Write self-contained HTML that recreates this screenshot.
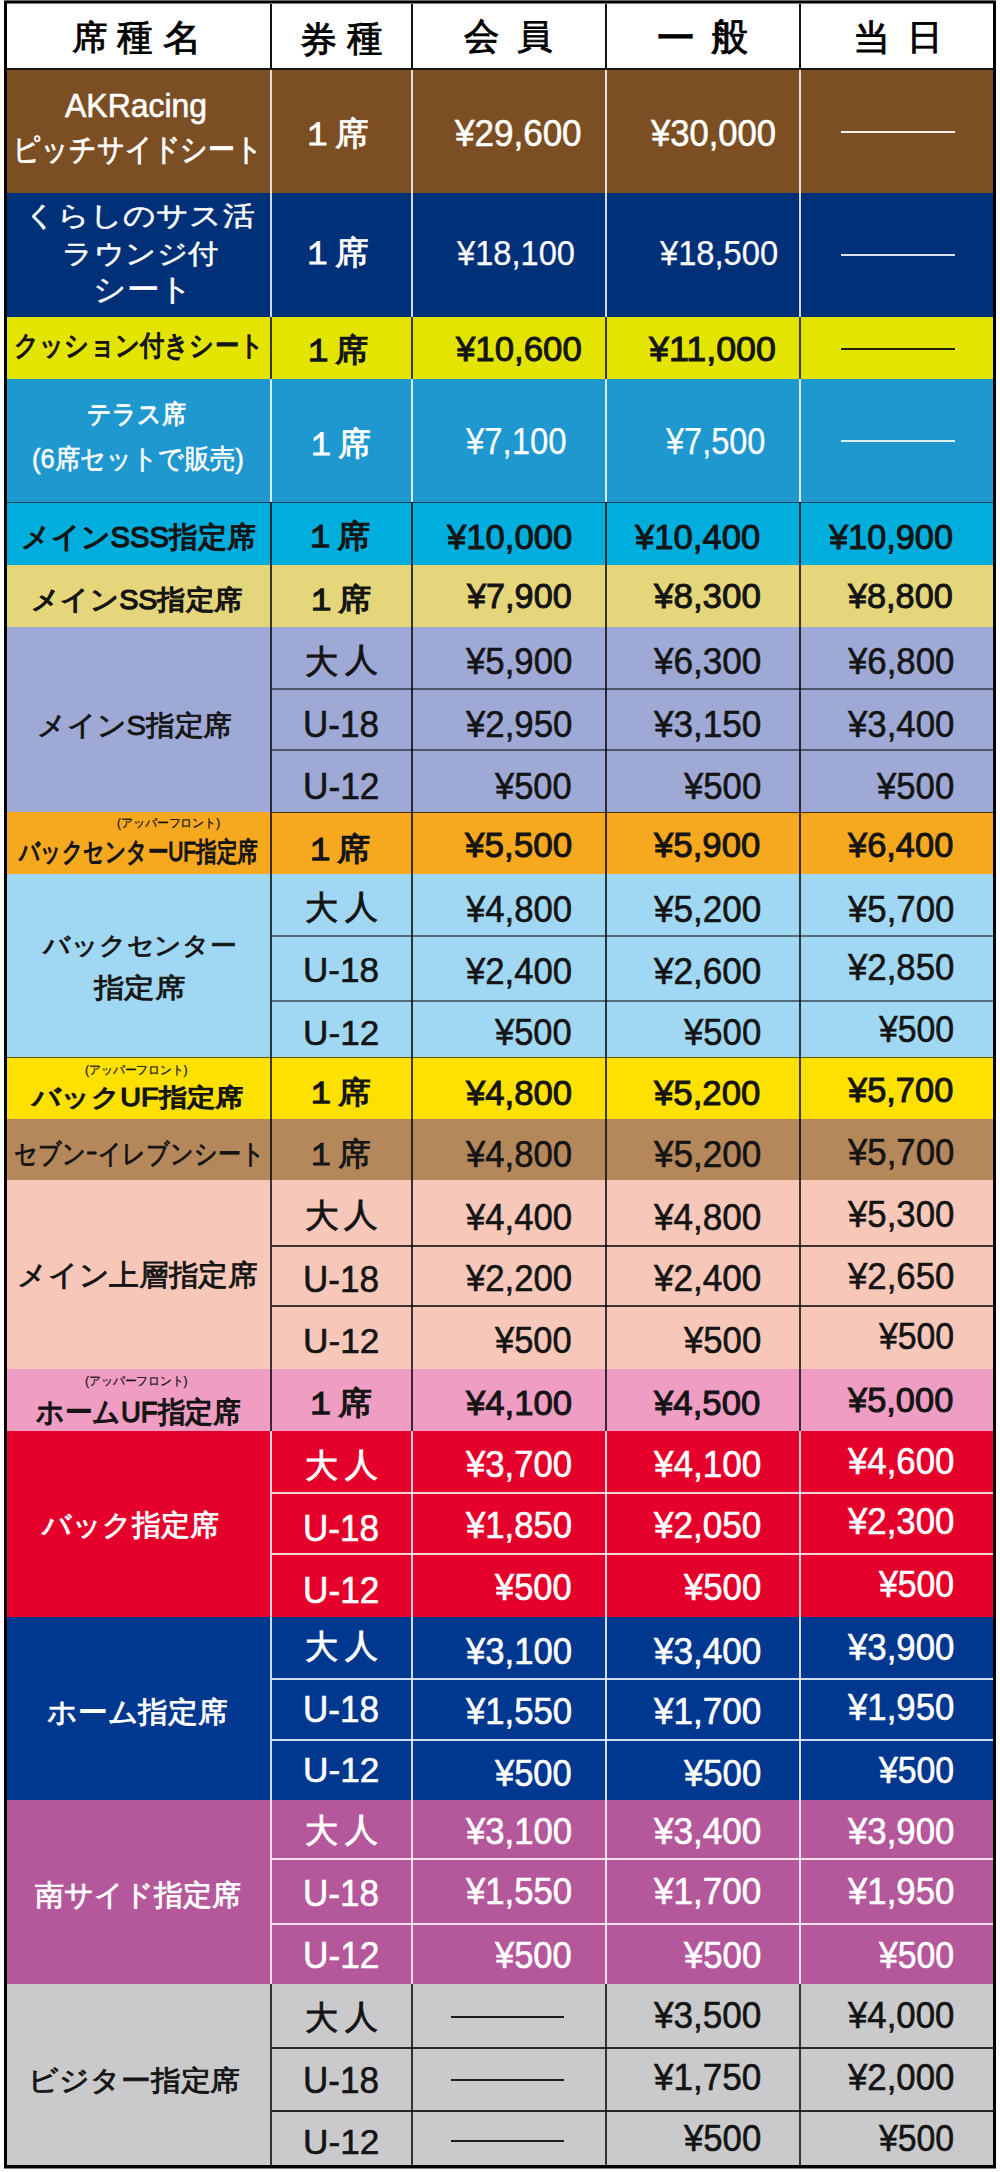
<!DOCTYPE html>
<html lang="ja"><head><meta charset="utf-8"><title>席種・料金表</title>
<style>
html,body{margin:0;padding:0;width:1000px;height:2172px;overflow:hidden;background:#ffffff}
#c{position:relative;width:1000px;height:2172px;background:#ffffff}
i{position:absolute;display:block}
b{position:absolute;white-space:nowrap;line-height:1;font-family:"Liberation Sans",sans-serif;font-weight:normal;transform-origin:0 0}
</style></head><body><div id="c">
<i style="left:4px;top:70px;width:992px;height:123px;background:#7b4f23"></i>
<i style="left:4px;top:193px;width:992px;height:124px;background:#003078"></i>
<i style="left:4px;top:317px;width:992px;height:62px;background:#e3e400"></i>
<i style="left:4px;top:379px;width:992px;height:123px;background:#1f98d0"></i>
<i style="left:4px;top:502px;width:992px;height:63px;background:#00aede"></i>
<i style="left:4px;top:565px;width:992px;height:62px;background:#e6d67b"></i>
<i style="left:4px;top:627px;width:992px;height:185px;background:#9ea9d6"></i>
<i style="left:4px;top:812px;width:992px;height:62px;background:#f6a81f"></i>
<i style="left:4px;top:874px;width:992px;height:183px;background:#a0d8f3"></i>
<i style="left:4px;top:1057px;width:992px;height:62px;background:#ffe100"></i>
<i style="left:4px;top:1119px;width:992px;height:61px;background:#b5885c"></i>
<i style="left:4px;top:1180px;width:992px;height:189px;background:#f7c8b9"></i>
<i style="left:4px;top:1369px;width:992px;height:62px;background:#f09dc3"></i>
<i style="left:4px;top:1431px;width:992px;height:186px;background:#e4002b"></i>
<i style="left:4px;top:1617px;width:992px;height:183px;background:#00378f"></i>
<i style="left:4px;top:1800px;width:992px;height:184px;background:#b5579b"></i>
<i style="left:4px;top:1984px;width:992px;height:182px;background:#cacacc"></i>
<i style="left:270px;top:70px;width:2px;height:123px;background:rgba(255,255,255,0.82)"></i>
<i style="left:411px;top:70px;width:2px;height:123px;background:rgba(255,255,255,0.82)"></i>
<i style="left:605px;top:70px;width:2px;height:123px;background:rgba(255,255,255,0.82)"></i>
<i style="left:799px;top:70px;width:2px;height:123px;background:rgba(255,255,255,0.82)"></i>
<i style="left:270px;top:193px;width:2px;height:124px;background:rgba(255,255,255,0.82)"></i>
<i style="left:411px;top:193px;width:2px;height:124px;background:rgba(255,255,255,0.82)"></i>
<i style="left:605px;top:193px;width:2px;height:124px;background:rgba(255,255,255,0.82)"></i>
<i style="left:799px;top:193px;width:2px;height:124px;background:rgba(255,255,255,0.82)"></i>
<i style="left:270px;top:317px;width:2px;height:62px;background:rgba(0,0,0,0.75)"></i>
<i style="left:411px;top:317px;width:2px;height:62px;background:rgba(0,0,0,0.75)"></i>
<i style="left:605px;top:317px;width:2px;height:62px;background:rgba(0,0,0,0.75)"></i>
<i style="left:799px;top:317px;width:2px;height:62px;background:rgba(0,0,0,0.75)"></i>
<i style="left:270px;top:379px;width:2px;height:123px;background:rgba(255,255,255,0.82)"></i>
<i style="left:411px;top:379px;width:2px;height:123px;background:rgba(255,255,255,0.82)"></i>
<i style="left:605px;top:379px;width:2px;height:123px;background:rgba(255,255,255,0.82)"></i>
<i style="left:799px;top:379px;width:2px;height:123px;background:rgba(255,255,255,0.82)"></i>
<i style="left:270px;top:502px;width:2px;height:63px;background:rgba(0,0,0,0.75)"></i>
<i style="left:411px;top:502px;width:2px;height:63px;background:rgba(0,0,0,0.75)"></i>
<i style="left:605px;top:502px;width:2px;height:63px;background:rgba(0,0,0,0.75)"></i>
<i style="left:799px;top:502px;width:2px;height:63px;background:rgba(0,0,0,0.75)"></i>
<i style="left:270px;top:565px;width:2px;height:62px;background:rgba(0,0,0,0.75)"></i>
<i style="left:411px;top:565px;width:2px;height:62px;background:rgba(0,0,0,0.75)"></i>
<i style="left:605px;top:565px;width:2px;height:62px;background:rgba(0,0,0,0.75)"></i>
<i style="left:799px;top:565px;width:2px;height:62px;background:rgba(0,0,0,0.75)"></i>
<i style="left:270px;top:627px;width:2px;height:185px;background:rgba(0,0,0,0.75)"></i>
<i style="left:411px;top:627px;width:2px;height:185px;background:rgba(0,0,0,0.75)"></i>
<i style="left:605px;top:627px;width:2px;height:185px;background:rgba(0,0,0,0.75)"></i>
<i style="left:799px;top:627px;width:2px;height:185px;background:rgba(0,0,0,0.75)"></i>
<i style="left:272px;top:688px;width:721px;height:2px;background:rgba(0,0,0,0.5)"></i>
<i style="left:272px;top:749px;width:721px;height:2px;background:rgba(0,0,0,0.5)"></i>
<i style="left:270px;top:812px;width:2px;height:62px;background:rgba(0,0,0,0.75)"></i>
<i style="left:411px;top:812px;width:2px;height:62px;background:rgba(0,0,0,0.75)"></i>
<i style="left:605px;top:812px;width:2px;height:62px;background:rgba(0,0,0,0.75)"></i>
<i style="left:799px;top:812px;width:2px;height:62px;background:rgba(0,0,0,0.75)"></i>
<i style="left:270px;top:874px;width:2px;height:183px;background:rgba(0,0,0,0.75)"></i>
<i style="left:411px;top:874px;width:2px;height:183px;background:rgba(0,0,0,0.75)"></i>
<i style="left:605px;top:874px;width:2px;height:183px;background:rgba(0,0,0,0.75)"></i>
<i style="left:799px;top:874px;width:2px;height:183px;background:rgba(0,0,0,0.75)"></i>
<i style="left:272px;top:935px;width:721px;height:2px;background:rgba(0,0,0,0.5)"></i>
<i style="left:272px;top:1000px;width:721px;height:2px;background:rgba(0,0,0,0.5)"></i>
<i style="left:270px;top:1057px;width:2px;height:62px;background:rgba(0,0,0,0.75)"></i>
<i style="left:411px;top:1057px;width:2px;height:62px;background:rgba(0,0,0,0.75)"></i>
<i style="left:605px;top:1057px;width:2px;height:62px;background:rgba(0,0,0,0.75)"></i>
<i style="left:799px;top:1057px;width:2px;height:62px;background:rgba(0,0,0,0.75)"></i>
<i style="left:270px;top:1119px;width:2px;height:61px;background:rgba(0,0,0,0.75)"></i>
<i style="left:411px;top:1119px;width:2px;height:61px;background:rgba(0,0,0,0.75)"></i>
<i style="left:605px;top:1119px;width:2px;height:61px;background:rgba(0,0,0,0.75)"></i>
<i style="left:799px;top:1119px;width:2px;height:61px;background:rgba(0,0,0,0.75)"></i>
<i style="left:270px;top:1180px;width:2px;height:189px;background:rgba(0,0,0,0.75)"></i>
<i style="left:411px;top:1180px;width:2px;height:189px;background:rgba(0,0,0,0.75)"></i>
<i style="left:605px;top:1180px;width:2px;height:189px;background:rgba(0,0,0,0.75)"></i>
<i style="left:799px;top:1180px;width:2px;height:189px;background:rgba(0,0,0,0.75)"></i>
<i style="left:272px;top:1245px;width:721px;height:2px;background:rgba(0,0,0,0.75)"></i>
<i style="left:272px;top:1305px;width:721px;height:2px;background:rgba(0,0,0,0.75)"></i>
<i style="left:270px;top:1369px;width:2px;height:62px;background:rgba(0,0,0,0.75)"></i>
<i style="left:411px;top:1369px;width:2px;height:62px;background:rgba(0,0,0,0.75)"></i>
<i style="left:605px;top:1369px;width:2px;height:62px;background:rgba(0,0,0,0.75)"></i>
<i style="left:799px;top:1369px;width:2px;height:62px;background:rgba(0,0,0,0.75)"></i>
<i style="left:270px;top:1431px;width:2px;height:186px;background:rgba(255,255,255,0.82)"></i>
<i style="left:411px;top:1431px;width:2px;height:186px;background:rgba(255,255,255,0.82)"></i>
<i style="left:605px;top:1431px;width:2px;height:186px;background:rgba(255,255,255,0.82)"></i>
<i style="left:799px;top:1431px;width:2px;height:186px;background:rgba(255,255,255,0.82)"></i>
<i style="left:272px;top:1492px;width:721px;height:2px;background:rgba(255,255,255,0.82)"></i>
<i style="left:272px;top:1553px;width:721px;height:2px;background:rgba(255,255,255,0.82)"></i>
<i style="left:270px;top:1617px;width:2px;height:183px;background:rgba(255,255,255,0.82)"></i>
<i style="left:411px;top:1617px;width:2px;height:183px;background:rgba(255,255,255,0.82)"></i>
<i style="left:605px;top:1617px;width:2px;height:183px;background:rgba(255,255,255,0.82)"></i>
<i style="left:799px;top:1617px;width:2px;height:183px;background:rgba(255,255,255,0.82)"></i>
<i style="left:272px;top:1678px;width:721px;height:2px;background:rgba(255,255,255,0.82)"></i>
<i style="left:272px;top:1739px;width:721px;height:2px;background:rgba(255,255,255,0.82)"></i>
<i style="left:270px;top:1800px;width:2px;height:184px;background:rgba(255,255,255,0.82)"></i>
<i style="left:411px;top:1800px;width:2px;height:184px;background:rgba(255,255,255,0.82)"></i>
<i style="left:605px;top:1800px;width:2px;height:184px;background:rgba(255,255,255,0.82)"></i>
<i style="left:799px;top:1800px;width:2px;height:184px;background:rgba(255,255,255,0.82)"></i>
<i style="left:272px;top:1858px;width:721px;height:2px;background:rgba(255,255,255,0.82)"></i>
<i style="left:272px;top:1923px;width:721px;height:2px;background:rgba(255,255,255,0.82)"></i>
<i style="left:270px;top:1984px;width:2px;height:182px;background:rgba(0,0,0,0.75)"></i>
<i style="left:411px;top:1984px;width:2px;height:182px;background:rgba(0,0,0,0.75)"></i>
<i style="left:605px;top:1984px;width:2px;height:182px;background:rgba(0,0,0,0.75)"></i>
<i style="left:799px;top:1984px;width:2px;height:182px;background:rgba(0,0,0,0.75)"></i>
<i style="left:272px;top:2047px;width:721px;height:2px;background:rgba(0,0,0,0.8)"></i>
<i style="left:272px;top:2110px;width:721px;height:2px;background:rgba(0,0,0,0.8)"></i>
<i style="left:4px;top:502px;width:992px;height:1px;background:rgba(0,0,0,0.6)"></i>
<i style="left:272px;top:812px;width:721px;height:1px;background:rgba(0,0,0,0.7)"></i>
<i style="left:4px;top:1057px;width:992px;height:1px;background:rgba(0,0,0,0.6)"></i>
<i style="left:4px;top:0px;width:992px;height:69px;background:#ffffff"></i>
<i style="left:270px;top:3px;width:2px;height:66px;background:#141414"></i>
<i style="left:411px;top:3px;width:2px;height:66px;background:#141414"></i>
<i style="left:605px;top:3px;width:2px;height:66px;background:#141414"></i>
<i style="left:799px;top:3px;width:2px;height:66px;background:#141414"></i>
<i style="left:4px;top:68px;width:992px;height:2px;background:#141414"></i>
<i style="left:4px;top:0px;width:992px;height:1px;background:#6a6a6a"></i>
<i style="left:4px;top:1px;width:992px;height:2px;background:#000000"></i>
<i style="left:7px;top:3px;width:986px;height:1px;background:#7a7a7a"></i>
<i style="left:4px;top:1px;width:3px;height:2168px;background:#000000"></i>
<i style="left:993px;top:1px;width:3px;height:2168px;background:#000000"></i>
<i style="left:4px;top:2165px;width:992px;height:3px;background:#000000"></i>
<i style="left:4px;top:2168px;width:992px;height:1px;background:#808080"></i>
<i style="left:841px;top:131px;width:114px;height:2px;background:rgba(255,255,255,0.9)"></i>
<i style="left:841px;top:254px;width:114px;height:2px;background:rgba(255,255,255,0.85)"></i>
<i style="left:841px;top:348px;width:114px;height:2px;background:rgba(0,0,0,0.85)"></i>
<i style="left:841px;top:440px;width:114px;height:2px;background:rgba(255,255,255,0.85)"></i>
<i style="left:451px;top:2016px;width:113px;height:2px;background:rgba(0,0,0,0.85)"></i>
<i style="left:451px;top:2079px;width:113px;height:2px;background:rgba(0,0,0,0.85)"></i>
<i style="left:451px;top:2140px;width:113px;height:2px;background:rgba(0,0,0,0.85)"></i>
<b style="left:71.64px;top:20.25px;font-size:34.09px;color:#000000;-webkit-text-stroke:0.85px #000000;transform:scaleX(1.0456);">席</b>
<b style="left:117.38px;top:17.68px;font-size:38.01px;color:#000000;-webkit-text-stroke:0.85px #000000;transform:scaleX(0.9381);">種</b>
<b style="left:163.20px;top:20.54px;font-size:35.51px;color:#000000;-webkit-text-stroke:0.85px #000000;transform:scaleX(1.0684);">名</b>
<b style="left:299.61px;top:22.66px;font-size:35.80px;color:#000000;-webkit-text-stroke:0.85px #000000;transform:scaleX(1.0259);">券</b>
<b style="left:346.64px;top:20.48px;font-size:37.96px;color:#000000;-webkit-text-stroke:0.85px #000000;transform:scaleX(0.9337);">種</b>
<b style="left:463.51px;top:18.14px;font-size:37.23px;color:#000000;-webkit-text-stroke:0.85px #000000;transform:scaleX(0.9550);">会</b>
<b style="left:516.54px;top:18.76px;font-size:34.12px;color:#000000;-webkit-text-stroke:0.85px #000000;transform:scaleX(1.0409);">員</b>
<b style="left:656.53px;top:15.75px;font-size:45.56px;color:#000000;-webkit-text-stroke:0.85px #000000;transform:scaleX(0.8158);">一</b>
<b style="left:711.26px;top:18.45px;font-size:38.91px;color:#000000;-webkit-text-stroke:0.85px #000000;transform:scaleX(0.9570);">般</b>
<b style="left:852.77px;top:20.64px;font-size:35.56px;color:#000000;-webkit-text-stroke:0.85px #000000;transform:scaleX(1.0373);">当</b>
<b style="left:907.40px;top:18.73px;font-size:35.26px;color:#000000;-webkit-text-stroke:0.85px #000000;transform:scaleX(1.0175);">日</b>
<b style="left:64.85px;top:89.18px;font-size:33.41px;color:#ffffff;-webkit-text-stroke:0.6px #ffffff;transform:scaleX(0.9568);">AKRacing</b>
<b style="left:12.64px;top:134.09px;font-size:30.57px;color:#ffffff;-webkit-text-stroke:0.85px #ffffff;transform:scaleX(0.8723);">ピッチサイドシート</b>
<b style="left:24.19px;top:202.86px;font-size:26.82px;color:#ffffff;-webkit-text-stroke:0.45px #ffffff;transform:scaleX(1.1816);">くらしのサス活</b>
<b style="left:61.58px;top:240.60px;font-size:26.92px;color:#ffffff;-webkit-text-stroke:0.45px #ffffff;transform:scaleX(1.1254);">ラウンジ付</b>
<b style="left:93.42px;top:274.02px;font-size:30.59px;color:#ffffff;-webkit-text-stroke:0.45px #ffffff;transform:scaleX(1.0531);">シート</b>
<b style="left:14.47px;top:332.27px;font-size:28.07px;color:#141414;-webkit-text-stroke:1.25px #141414;transform:scaleX(0.8681);">クッション付きシート</b>
<b style="left:87.43px;top:401.10px;font-size:26.42px;color:#ffffff;-webkit-text-stroke:0.85px #ffffff;transform:scaleX(0.9246);">テラス席</b>
<b style="left:31.53px;top:444.70px;font-size:27.25px;color:#ffffff;-webkit-text-stroke:0.6px #ffffff;transform:scaleX(0.9353);">(6席セットで販売)</b>
<b style="left:20.96px;top:522.00px;font-size:29.33px;color:#141414;-webkit-text-stroke:1.25px #141414;transform:scaleX(0.9946);">メインSSS指定席</b>
<b style="left:31.18px;top:585.62px;font-size:27.35px;color:#141414;-webkit-text-stroke:1.25px #141414;transform:scaleX(1.0494);">メインSS指定席</b>
<b style="left:37.33px;top:710.50px;font-size:28.35px;color:#141414;-webkit-text-stroke:0.85px #141414;transform:scaleX(1.0277);">メインS指定席</b>
<b style="left:116.68px;top:817.72px;font-size:11.91px;color:#141414;-webkit-text-stroke:0.25px #141414;transform:scaleX(0.9917);">(アッパーフロント)</b>
<b style="left:19.25px;top:838.15px;font-size:27.28px;color:#141414;-webkit-text-stroke:1.25px #141414;transform:scaleX(0.7655);">バックセンターUF指定席</b>
<b style="left:43.30px;top:933.18px;font-size:24.92px;color:#141414;-webkit-text-stroke:0.85px #141414;transform:scaleX(1.0711);">バックセンター</b>
<b style="left:93.50px;top:975.10px;font-size:26.88px;color:#141414;-webkit-text-stroke:0.85px #141414;transform:scaleX(1.1289);">指定席</b>
<b style="left:85.47px;top:1063.85px;font-size:12.42px;color:#141414;-webkit-text-stroke:0.25px #141414;transform:scaleX(0.9845);">(アッパーフロント)</b>
<b style="left:32.05px;top:1085.00px;font-size:25.29px;color:#141414;-webkit-text-stroke:1.25px #141414;transform:scaleX(1.1330);">バックUF指定席</b>
<b style="left:14.36px;top:1140.68px;font-size:26.82px;color:#141414;-webkit-text-stroke:0.85px #141414;transform:scaleX(0.8560);">セブンｰイレブンシート</b>
<b style="left:17.08px;top:1260.50px;font-size:28.73px;color:#141414;-webkit-text-stroke:0.85px #141414;transform:scaleX(1.0251);">メイン上層指定席</b>
<b style="left:85.47px;top:1375.05px;font-size:12.42px;color:#141414;-webkit-text-stroke:0.25px #141414;transform:scaleX(0.9845);">(アッパーフロント)</b>
<b style="left:35.59px;top:1398.10px;font-size:28.77px;color:#141414;-webkit-text-stroke:1.25px #141414;transform:scaleX(0.9549);">ホームUF指定席</b>
<b style="left:42.30px;top:1510.50px;font-size:28.73px;color:#ffffff;-webkit-text-stroke:0.85px #ffffff;">バック指定席</b>
<b style="left:46.70px;top:1698.25px;font-size:28.74px;color:#ffffff;-webkit-text-stroke:0.85px #ffffff;transform:scaleX(1.0258);">ホーム指定席</b>
<b style="left:35.12px;top:1880.50px;font-size:28.73px;color:#ffffff;-webkit-text-stroke:0.85px #ffffff;">南サイド指定席</b>
<b style="left:28.27px;top:2067.00px;font-size:27.53px;color:#141414;-webkit-text-stroke:0.85px #141414;transform:scaleX(1.0667);">ビジター指定席</b>
<b style="left:300.79px;top:116.60px;font-size:33.21px;color:#ffffff;-webkit-text-stroke:0.85px #ffffff;transform:scaleX(1.0212);">１席</b>
<b style="left:300.79px;top:236.40px;font-size:33.21px;color:#ffffff;-webkit-text-stroke:0.85px #ffffff;transform:scaleX(1.0212);">１席</b>
<b style="left:301.58px;top:334.40px;font-size:32.27px;color:#141414;-webkit-text-stroke:1.25px #141414;transform:scaleX(1.0405);">１席</b>
<b style="left:304.96px;top:428.05px;font-size:32.58px;color:#ffffff;-webkit-text-stroke:0.85px #ffffff;transform:scaleX(0.9947);">１席</b>
<b style="left:304.46px;top:520.20px;font-size:32.27px;color:#141414;-webkit-text-stroke:1.25px #141414;transform:scaleX(1.0400);">１席</b>
<b style="left:304.96px;top:584.55px;font-size:30.69px;color:#141414;-webkit-text-stroke:1.25px #141414;transform:scaleX(1.0741);">１席</b>
<b style="left:304.61px;top:644.69px;font-size:33.20px;color:#141414;-webkit-text-stroke:0.85px #141414;transform:scaleX(1.0030);">大</b>
<b style="left:345.12px;top:643.17px;font-size:33.23px;color:#141414;-webkit-text-stroke:0.85px #141414;">人</b>
<b style="left:302.81px;top:707.22px;font-size:36.47px;color:#141414;-webkit-text-stroke:0.6px #141414;transform:scaleX(0.9607);">U-18</b>
<b style="left:302.80px;top:769.02px;font-size:36.47px;color:#141414;-webkit-text-stroke:0.6px #141414;transform:scaleX(0.9654);">U-12</b>
<b style="left:304.46px;top:832.60px;font-size:32.27px;color:#141414;-webkit-text-stroke:1.25px #141414;transform:scaleX(1.0400);">１席</b>
<b style="left:304.61px;top:891.49px;font-size:33.20px;color:#141414;-webkit-text-stroke:0.85px #141414;transform:scaleX(1.0030);">大</b>
<b style="left:345.12px;top:889.97px;font-size:33.23px;color:#141414;-webkit-text-stroke:0.85px #141414;">人</b>
<b style="left:302.81px;top:953.29px;font-size:35.90px;color:#141414;-webkit-text-stroke:0.6px #141414;transform:scaleX(0.9758);">U-18</b>
<b style="left:302.80px;top:1016.09px;font-size:35.90px;color:#141414;-webkit-text-stroke:0.6px #141414;transform:scaleX(0.9805);">U-12</b>
<b style="left:305.46px;top:1077.25px;font-size:31.20px;color:#141414;-webkit-text-stroke:1.25px #141414;transform:scaleX(1.0566);">１席</b>
<b style="left:305.46px;top:1137.55px;font-size:32.18px;color:#141414;-webkit-text-stroke:0.85px #141414;transform:scaleX(1.0246);">１席</b>
<b style="left:304.61px;top:1200.40px;font-size:32.58px;color:#141414;-webkit-text-stroke:0.85px #141414;transform:scaleX(1.0221);">大</b>
<b style="left:344.12px;top:1199.40px;font-size:32.58px;color:#141414;-webkit-text-stroke:0.85px #141414;transform:scaleX(1.0201);">人</b>
<b style="left:302.81px;top:1260.84px;font-size:37.19px;color:#141414;-webkit-text-stroke:0.6px #141414;transform:scaleX(0.9421);">U-18</b>
<b style="left:302.80px;top:1323.08px;font-size:35.01px;color:#141414;-webkit-text-stroke:0.6px #141414;transform:scaleX(1.0056);">U-12</b>
<b style="left:304.46px;top:1388.00px;font-size:31.60px;color:#141414;-webkit-text-stroke:1.25px #141414;transform:scaleX(1.0618);">１席</b>
<b style="left:304.61px;top:1448.69px;font-size:33.20px;color:#ffffff;-webkit-text-stroke:0.85px #ffffff;transform:scaleX(1.0030);">大</b>
<b style="left:345.12px;top:1448.17px;font-size:33.23px;color:#ffffff;-webkit-text-stroke:0.85px #ffffff;">人</b>
<b style="left:302.81px;top:1509.64px;font-size:37.19px;color:#ffffff;-webkit-text-stroke:0.6px #ffffff;transform:scaleX(0.9421);">U-18</b>
<b style="left:302.80px;top:1572.44px;font-size:37.19px;color:#ffffff;-webkit-text-stroke:0.6px #ffffff;transform:scaleX(0.9468);">U-12</b>
<b style="left:304.61px;top:1630.49px;font-size:33.20px;color:#ffffff;-webkit-text-stroke:0.85px #ffffff;transform:scaleX(1.0030);">大</b>
<b style="left:345.12px;top:1628.97px;font-size:33.23px;color:#ffffff;-webkit-text-stroke:0.85px #ffffff;">人</b>
<b style="left:302.81px;top:1690.84px;font-size:37.19px;color:#ffffff;-webkit-text-stroke:0.6px #ffffff;transform:scaleX(0.9421);">U-18</b>
<b style="left:302.80px;top:1753.49px;font-size:35.90px;color:#ffffff;-webkit-text-stroke:0.6px #ffffff;transform:scaleX(0.9805);">U-12</b>
<b style="left:304.61px;top:1813.69px;font-size:33.20px;color:#ffffff;-webkit-text-stroke:0.85px #ffffff;transform:scaleX(1.0030);">大</b>
<b style="left:345.12px;top:1813.17px;font-size:33.23px;color:#ffffff;-webkit-text-stroke:0.85px #ffffff;">人</b>
<b style="left:302.81px;top:1875.62px;font-size:36.47px;color:#ffffff;-webkit-text-stroke:0.6px #ffffff;transform:scaleX(0.9607);">U-18</b>
<b style="left:302.80px;top:1938.42px;font-size:36.47px;color:#ffffff;-webkit-text-stroke:0.6px #ffffff;transform:scaleX(0.9654);">U-12</b>
<b style="left:304.61px;top:2001.09px;font-size:33.20px;color:#141414;-webkit-text-stroke:0.85px #141414;transform:scaleX(1.0030);">大</b>
<b style="left:345.12px;top:1999.57px;font-size:33.23px;color:#141414;-webkit-text-stroke:0.85px #141414;">人</b>
<b style="left:302.81px;top:2062.04px;font-size:37.19px;color:#141414;-webkit-text-stroke:0.6px #141414;transform:scaleX(0.9421);">U-18</b>
<b style="left:302.80px;top:2124.69px;font-size:35.90px;color:#141414;-webkit-text-stroke:0.6px #141414;transform:scaleX(0.9805);">U-12</b>
<b style="left:455.45px;top:115.04px;font-size:37.19px;color:#ffffff;-webkit-text-stroke:0.6px #ffffff;transform:scaleX(0.9420);">¥29,600</b>
<b style="left:651.00px;top:115.04px;font-size:37.19px;color:#ffffff;-webkit-text-stroke:0.6px #ffffff;transform:scaleX(0.9300);">¥30,000</b>
<b style="left:457.25px;top:235.76px;font-size:35.58px;color:#ffffff;-webkit-text-stroke:0.25px #ffffff;transform:scaleX(0.9171);">¥18,100</b>
<b style="left:660.20px;top:235.76px;font-size:35.58px;color:#ffffff;-webkit-text-stroke:0.25px #ffffff;transform:scaleX(0.9187);">¥18,500</b>
<b style="left:455.95px;top:331.69px;font-size:35.60px;color:#141414;-webkit-text-stroke:1.0px #141414;transform:scaleX(0.9777);">¥10,600</b>
<b style="left:649.25px;top:331.69px;font-size:35.60px;color:#141414;-webkit-text-stroke:1.0px #141414;transform:scaleX(1.0080);">¥11,000</b>
<b style="left:466.40px;top:423.23px;font-size:37.70px;color:#ffffff;-webkit-text-stroke:0.25px #ffffff;transform:scaleX(0.8732);">¥7,100</b>
<b style="left:666.45px;top:423.23px;font-size:37.70px;color:#ffffff;-webkit-text-stroke:0.25px #ffffff;transform:scaleX(0.8626);">¥7,500</b>
<b style="left:446.55px;top:518.81px;font-size:35.36px;color:#141414;-webkit-text-stroke:1.0px #141414;transform:scaleX(0.9810);">¥10,000</b>
<b style="left:635.35px;top:518.81px;font-size:35.36px;color:#141414;-webkit-text-stroke:1.0px #141414;transform:scaleX(0.9810);">¥10,400</b>
<b style="left:829.10px;top:518.81px;font-size:35.36px;color:#141414;-webkit-text-stroke:1.0px #141414;transform:scaleX(0.9700);">¥10,900</b>
<b style="left:467.30px;top:578.41px;font-size:35.36px;color:#141414;-webkit-text-stroke:1.0px #141414;transform:scaleX(0.9682);">¥7,900</b>
<b style="left:653.85px;top:578.41px;font-size:35.36px;color:#141414;-webkit-text-stroke:1.0px #141414;transform:scaleX(0.9888);">¥8,300</b>
<b style="left:848.10px;top:578.41px;font-size:35.36px;color:#141414;-webkit-text-stroke:1.0px #141414;transform:scaleX(0.9682);">¥8,800</b>
<b style="left:466.00px;top:643.91px;font-size:36.62px;color:#141414;-webkit-text-stroke:0.6px #141414;transform:scaleX(0.9494);">¥5,900</b>
<b style="left:654.00px;top:643.91px;font-size:36.62px;color:#141414;-webkit-text-stroke:0.6px #141414;transform:scaleX(0.9585);">¥6,300</b>
<b style="left:848.00px;top:643.91px;font-size:36.62px;color:#141414;-webkit-text-stroke:0.6px #141414;transform:scaleX(0.9494);">¥6,800</b>
<b style="left:466.00px;top:706.51px;font-size:36.62px;color:#141414;-webkit-text-stroke:0.6px #141414;transform:scaleX(0.9494);">¥2,950</b>
<b style="left:654.00px;top:706.51px;font-size:36.62px;color:#141414;-webkit-text-stroke:0.6px #141414;transform:scaleX(0.9585);">¥3,150</b>
<b style="left:848.00px;top:706.51px;font-size:36.62px;color:#141414;-webkit-text-stroke:0.6px #141414;transform:scaleX(0.9494);">¥3,400</b>
<b style="left:495.30px;top:769.11px;font-size:36.62px;color:#141414;-webkit-text-stroke:0.6px #141414;transform:scaleX(0.9402);">¥500</b>
<b style="left:684.00px;top:769.11px;font-size:36.62px;color:#141414;-webkit-text-stroke:0.6px #141414;transform:scaleX(0.9477);">¥500</b>
<b style="left:877.00px;top:769.11px;font-size:36.62px;color:#141414;-webkit-text-stroke:0.6px #141414;transform:scaleX(0.9477);">¥500</b>
<b style="left:464.50px;top:826.61px;font-size:35.36px;color:#141414;-webkit-text-stroke:1.0px #141414;transform:scaleX(0.9907);">¥5,500</b>
<b style="left:653.50px;top:826.61px;font-size:35.36px;color:#141414;-webkit-text-stroke:1.0px #141414;transform:scaleX(0.9832);">¥5,900</b>
<b style="left:848.00px;top:826.61px;font-size:35.36px;color:#141414;-webkit-text-stroke:1.0px #141414;transform:scaleX(0.9739);">¥6,400</b>
<b style="left:466.30px;top:891.71px;font-size:36.62px;color:#141414;-webkit-text-stroke:0.6px #141414;transform:scaleX(0.9477);">¥4,800</b>
<b style="left:654.00px;top:891.71px;font-size:36.62px;color:#141414;-webkit-text-stroke:0.6px #141414;transform:scaleX(0.9585);">¥5,200</b>
<b style="left:848.00px;top:891.71px;font-size:36.62px;color:#141414;-webkit-text-stroke:0.6px #141414;transform:scaleX(0.9494);">¥5,700</b>
<b style="left:466.30px;top:953.51px;font-size:36.62px;color:#141414;-webkit-text-stroke:0.6px #141414;transform:scaleX(0.9477);">¥2,400</b>
<b style="left:654.00px;top:953.51px;font-size:36.62px;color:#141414;-webkit-text-stroke:0.6px #141414;transform:scaleX(0.9585);">¥2,600</b>
<b style="left:848.00px;top:949.51px;font-size:36.62px;color:#141414;-webkit-text-stroke:0.6px #141414;transform:scaleX(0.9494);">¥2,850</b>
<b style="left:495.30px;top:1015.11px;font-size:36.62px;color:#141414;-webkit-text-stroke:0.6px #141414;transform:scaleX(0.9402);">¥500</b>
<b style="left:684.00px;top:1015.11px;font-size:36.62px;color:#141414;-webkit-text-stroke:0.6px #141414;transform:scaleX(0.9477);">¥500</b>
<b style="left:879.00px;top:1011.51px;font-size:36.62px;color:#141414;-webkit-text-stroke:0.6px #141414;transform:scaleX(0.9227);">¥500</b>
<b style="left:466.30px;top:1075.01px;font-size:35.36px;color:#141414;-webkit-text-stroke:1.0px #141414;transform:scaleX(0.9813);">¥4,800</b>
<b style="left:653.50px;top:1075.01px;font-size:35.36px;color:#141414;-webkit-text-stroke:1.0px #141414;transform:scaleX(0.9832);">¥5,200</b>
<b style="left:848.00px;top:1071.81px;font-size:35.36px;color:#141414;-webkit-text-stroke:1.0px #141414;transform:scaleX(0.9739);">¥5,700</b>
<b style="left:466.30px;top:1136.71px;font-size:36.62px;color:#141414;-webkit-text-stroke:0.6px #141414;transform:scaleX(0.9477);">¥4,800</b>
<b style="left:654.00px;top:1136.71px;font-size:36.62px;color:#141414;-webkit-text-stroke:0.6px #141414;transform:scaleX(0.9585);">¥5,200</b>
<b style="left:848.00px;top:1134.71px;font-size:36.62px;color:#141414;-webkit-text-stroke:0.6px #141414;transform:scaleX(0.9494);">¥5,700</b>
<b style="left:466.30px;top:1199.51px;font-size:36.62px;color:#141414;-webkit-text-stroke:0.6px #141414;transform:scaleX(0.9477);">¥4,400</b>
<b style="left:654.00px;top:1199.51px;font-size:36.62px;color:#141414;-webkit-text-stroke:0.6px #141414;transform:scaleX(0.9585);">¥4,800</b>
<b style="left:848.00px;top:1197.31px;font-size:36.62px;color:#141414;-webkit-text-stroke:0.6px #141414;transform:scaleX(0.9494);">¥5,300</b>
<b style="left:466.30px;top:1260.71px;font-size:36.62px;color:#141414;-webkit-text-stroke:0.6px #141414;transform:scaleX(0.9477);">¥2,200</b>
<b style="left:654.00px;top:1260.71px;font-size:36.62px;color:#141414;-webkit-text-stroke:0.6px #141414;transform:scaleX(0.9585);">¥2,400</b>
<b style="left:848.00px;top:1258.71px;font-size:36.62px;color:#141414;-webkit-text-stroke:0.6px #141414;transform:scaleX(0.9494);">¥2,650</b>
<b style="left:495.30px;top:1323.11px;font-size:36.62px;color:#141414;-webkit-text-stroke:0.6px #141414;transform:scaleX(0.9402);">¥500</b>
<b style="left:684.00px;top:1323.11px;font-size:36.62px;color:#141414;-webkit-text-stroke:0.6px #141414;transform:scaleX(0.9477);">¥500</b>
<b style="left:879.00px;top:1318.51px;font-size:36.62px;color:#141414;-webkit-text-stroke:0.6px #141414;transform:scaleX(0.9227);">¥500</b>
<b style="left:466.30px;top:1385.21px;font-size:35.36px;color:#141414;-webkit-text-stroke:1.0px #141414;transform:scaleX(0.9813);">¥4,100</b>
<b style="left:653.50px;top:1385.21px;font-size:35.36px;color:#141414;-webkit-text-stroke:1.0px #141414;transform:scaleX(0.9832);">¥4,500</b>
<b style="left:848.00px;top:1382.01px;font-size:35.36px;color:#141414;-webkit-text-stroke:1.0px #141414;transform:scaleX(0.9739);">¥5,000</b>
<b style="left:466.30px;top:1447.31px;font-size:36.62px;color:#ffffff;-webkit-text-stroke:0.6px #ffffff;transform:scaleX(0.9477);">¥3,700</b>
<b style="left:654.00px;top:1447.31px;font-size:36.62px;color:#ffffff;-webkit-text-stroke:0.6px #ffffff;transform:scaleX(0.9585);">¥4,100</b>
<b style="left:848.00px;top:1443.71px;font-size:36.62px;color:#ffffff;-webkit-text-stroke:0.6px #ffffff;transform:scaleX(0.9494);">¥4,600</b>
<b style="left:466.30px;top:1508.31px;font-size:36.62px;color:#ffffff;-webkit-text-stroke:0.6px #ffffff;transform:scaleX(0.9477);">¥1,850</b>
<b style="left:654.00px;top:1508.31px;font-size:36.62px;color:#ffffff;-webkit-text-stroke:0.6px #ffffff;transform:scaleX(0.9585);">¥2,050</b>
<b style="left:848.00px;top:1503.71px;font-size:36.62px;color:#ffffff;-webkit-text-stroke:0.6px #ffffff;transform:scaleX(0.9494);">¥2,300</b>
<b style="left:495.30px;top:1569.51px;font-size:36.62px;color:#ffffff;-webkit-text-stroke:0.6px #ffffff;transform:scaleX(0.9402);">¥500</b>
<b style="left:684.00px;top:1569.51px;font-size:36.62px;color:#ffffff;-webkit-text-stroke:0.6px #ffffff;transform:scaleX(0.9477);">¥500</b>
<b style="left:879.00px;top:1567.31px;font-size:36.62px;color:#ffffff;-webkit-text-stroke:0.6px #ffffff;transform:scaleX(0.9227);">¥500</b>
<b style="left:466.30px;top:1633.71px;font-size:36.62px;color:#ffffff;-webkit-text-stroke:0.6px #ffffff;transform:scaleX(0.9477);">¥3,100</b>
<b style="left:654.00px;top:1633.71px;font-size:36.62px;color:#ffffff;-webkit-text-stroke:0.6px #ffffff;transform:scaleX(0.9585);">¥3,400</b>
<b style="left:848.00px;top:1630.11px;font-size:36.62px;color:#ffffff;-webkit-text-stroke:0.6px #ffffff;transform:scaleX(0.9494);">¥3,900</b>
<b style="left:466.30px;top:1694.31px;font-size:36.62px;color:#ffffff;-webkit-text-stroke:0.6px #ffffff;transform:scaleX(0.9477);">¥1,550</b>
<b style="left:654.00px;top:1694.31px;font-size:36.62px;color:#ffffff;-webkit-text-stroke:0.6px #ffffff;transform:scaleX(0.9585);">¥1,700</b>
<b style="left:848.00px;top:1689.71px;font-size:36.62px;color:#ffffff;-webkit-text-stroke:0.6px #ffffff;transform:scaleX(0.9494);">¥1,950</b>
<b style="left:495.30px;top:1755.51px;font-size:36.62px;color:#ffffff;-webkit-text-stroke:0.6px #ffffff;transform:scaleX(0.9402);">¥500</b>
<b style="left:684.00px;top:1755.51px;font-size:36.62px;color:#ffffff;-webkit-text-stroke:0.6px #ffffff;transform:scaleX(0.9477);">¥500</b>
<b style="left:879.00px;top:1753.31px;font-size:36.62px;color:#ffffff;-webkit-text-stroke:0.6px #ffffff;transform:scaleX(0.9227);">¥500</b>
<b style="left:466.30px;top:1813.91px;font-size:36.62px;color:#ffffff;-webkit-text-stroke:0.6px #ffffff;transform:scaleX(0.9477);">¥3,100</b>
<b style="left:654.00px;top:1813.91px;font-size:36.62px;color:#ffffff;-webkit-text-stroke:0.6px #ffffff;transform:scaleX(0.9585);">¥3,400</b>
<b style="left:848.00px;top:1813.91px;font-size:36.62px;color:#ffffff;-webkit-text-stroke:0.6px #ffffff;transform:scaleX(0.9494);">¥3,900</b>
<b style="left:466.30px;top:1873.71px;font-size:36.62px;color:#ffffff;-webkit-text-stroke:0.6px #ffffff;transform:scaleX(0.9477);">¥1,550</b>
<b style="left:654.00px;top:1873.71px;font-size:36.62px;color:#ffffff;-webkit-text-stroke:0.6px #ffffff;transform:scaleX(0.9585);">¥1,700</b>
<b style="left:848.00px;top:1873.71px;font-size:36.62px;color:#ffffff;-webkit-text-stroke:0.6px #ffffff;transform:scaleX(0.9494);">¥1,950</b>
<b style="left:495.30px;top:1938.11px;font-size:36.62px;color:#ffffff;-webkit-text-stroke:0.6px #ffffff;transform:scaleX(0.9402);">¥500</b>
<b style="left:684.00px;top:1938.11px;font-size:36.62px;color:#ffffff;-webkit-text-stroke:0.6px #ffffff;transform:scaleX(0.9477);">¥500</b>
<b style="left:879.00px;top:1938.11px;font-size:36.62px;color:#ffffff;-webkit-text-stroke:0.6px #ffffff;transform:scaleX(0.9227);">¥500</b>
<b style="left:654.00px;top:1997.91px;font-size:36.62px;color:#141414;-webkit-text-stroke:0.6px #141414;transform:scaleX(0.9585);">¥3,500</b>
<b style="left:848.00px;top:1997.91px;font-size:36.62px;color:#141414;-webkit-text-stroke:0.6px #141414;transform:scaleX(0.9494);">¥4,000</b>
<b style="left:654.00px;top:2059.71px;font-size:36.62px;color:#141414;-webkit-text-stroke:0.6px #141414;transform:scaleX(0.9585);">¥1,750</b>
<b style="left:848.00px;top:2059.71px;font-size:36.62px;color:#141414;-webkit-text-stroke:0.6px #141414;transform:scaleX(0.9494);">¥2,000</b>
<b style="left:684.00px;top:2120.51px;font-size:36.62px;color:#141414;-webkit-text-stroke:0.6px #141414;transform:scaleX(0.9477);">¥500</b>
<b style="left:879.00px;top:2120.51px;font-size:36.62px;color:#141414;-webkit-text-stroke:0.6px #141414;transform:scaleX(0.9227);">¥500</b>
</div></body></html>
